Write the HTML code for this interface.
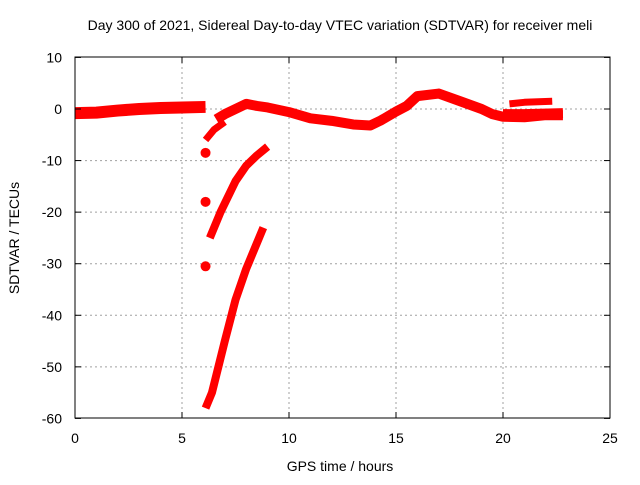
<!DOCTYPE html>
<html><head><meta charset="utf-8"><style>
body{margin:0;background:#fff}
svg text{font-family:"Liberation Sans",sans-serif;font-size:14px;fill:#000}
</style></head><body>
<svg id="c" width="640" height="480">
<text x="340" y="30" text-anchor="middle">Day 300 of 2021, Sidereal Day-to-day VTEC variation (SDTVAR) for receiver meli</text>
<text x="340" y="471" text-anchor="middle">GPS time / hours</text>
<text transform="translate(19,238) rotate(-90)" text-anchor="middle">SDTVAR / TECUs</text>
<g id="grid"></g><g id="marks"></g>
<rect x="75" y="57" width="535" height="361" fill="none" stroke="#000"/>
<g id="ticks"></g>
</svg>
<script>
const xTicks=[0,5,10,15,20,25];
const yTicks=[10,0,-10,-20,-30,-40,-50,-60];
const mainX=[0,1,2,3,4,5,6.1];
const mainY=[-0.8,-0.7,-0.3,0,0.2,0.3,0.4];
const mainBX=[6.6,7,7.5,8,8.5,9,10,11,12,13,13.8,14.3,15,15.5,16,17,18,19,19.5,20,21,22,22.8];
const mainBY=[-2,-1,0,1,0.6,0.3,-0.6,-1.8,-2.3,-3,-3.2,-2.2,-0.5,0.6,2.5,3,1.5,0,-1,-1.5,-1.6,-1.2,-1.2];
const upX=[20.3,21,22.3];
const upY=[1,1.3,1.5];
const lowX=[20,21,22.8];
const lowY=[-1,-1,-0.8];
const s2X=[6.1,6.5,7];const s2Y=[-6,-4,-2.5];
const s3X=[6.3,6.8,7.5,8,8.5,9];const s3Y=[-25,-20,-14,-11,-9,-7.3];
const s4X=[6.1,6.4,7,7.5,8,8.5,8.8];const s4Y=[-58,-55,-45,-37,-31,-26,-23];
const blobX=[6.1,6.1,6.1];const blobY=[-8.5,-18,-30.5];
const X=v=>75+v*21.4, Y=v=>109-v*5.157;
const NS="http://www.w3.org/2000/svg";
function mk(p,t,a){const e=document.createElementNS(NS,t);for(const k in a)e.setAttribute(k,a[k]);p.appendChild(e);return e;}
const g=document.getElementById('grid'),tk=document.getElementById('ticks'),m=document.getElementById('marks');
xTicks.forEach(v=>{
 if(v>0&&v<25){const l=mk(g,'line',{x1:X(v),x2:X(v),y1:57,y2:418,stroke:'#a0a0a0','stroke-dasharray':'2,3'});
 
 }
 mk(tk,'line',{x1:X(v),x2:X(v),y1:418,y2:412,stroke:'#000'});
 mk(tk,'line',{x1:X(v),x2:X(v),y1:57,y2:63,stroke:'#000'});
 const t=mk(tk,'text',{x:X(v),y:443,'text-anchor':'middle'});t.textContent=v;
 
 
});
yTicks.forEach(v=>{
 if(v<10&&v>-60){const l=mk(g,'line',{x1:75,x2:610,y1:Y(v),y2:Y(v),stroke:'#a0a0a0','stroke-dasharray':'2,3'});
 
 }
 mk(tk,'line',{x1:75,x2:81,y1:Y(v),y2:Y(v),stroke:'#000'});
 mk(tk,'line',{x1:610,x2:604,y1:Y(v),y2:Y(v),stroke:'#000'});
 const t=mk(tk,'text',{x:62,y:Y(v)+5,'text-anchor':'end'});t.textContent=v;
 
 
});
function line(xs,ys,w,name){
 const p=mk(m,'polyline',{points:xs.map((x,i)=>X(x)+','+Y(ys[i])).join(' '),fill:'none',stroke:'#f00','stroke-width':w,'stroke-linejoin':'round','stroke-linecap':'butt'});
 
 
}
line(mainX,mainY,12,'series-main-a');
line(mainBX,mainBY,10,'series-main-b');
line(lowX,lowY,10,'series-lower');
line(upX,upY,7,'series-upper');
line(s2X,s2Y,7,'series-arc-1');
line(s3X,s3Y,8,'series-arc-2');
line(s4X,s4Y,8,'series-arc-3');
blobX.forEach((x,i)=>{const c=mk(m,'circle',{cx:X(x),cy:Y(blobY[i]),r:5,fill:'#f00'});
 
 });
</script>
</body></html>
